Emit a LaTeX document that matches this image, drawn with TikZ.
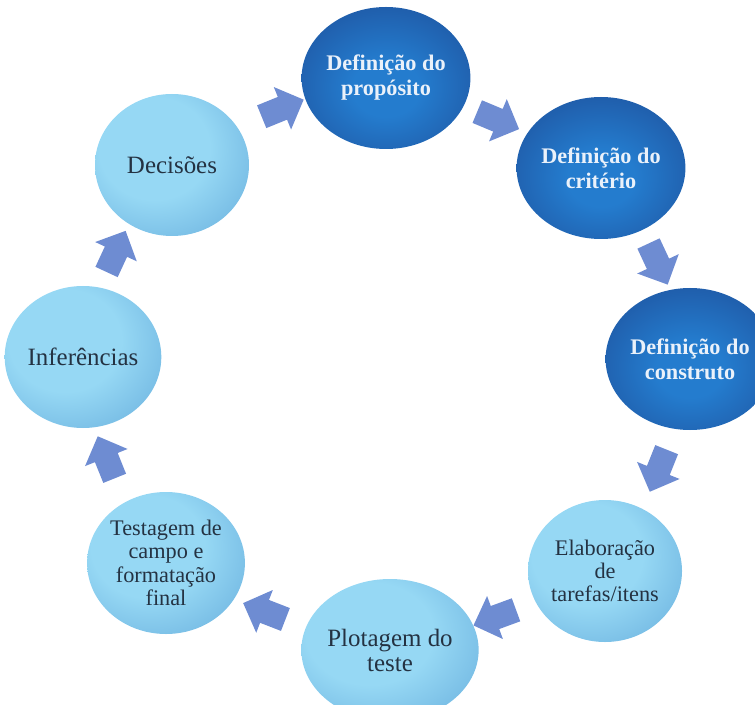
\documentclass[tikz,border=0pt]{standalone}
\usepackage{fontspec}
\setmainfont{Liberation Serif}
\usetikzlibrary{shapes.geometric,shapes.arrows,calc}
\definecolor{lightA}{RGB}{150,216,244}
\definecolor{lightB}{RGB}{86,158,212}
\definecolor{darkA}{RGB}{36,124,206}
\definecolor{darkB}{RGB}{27,58,130}
\definecolor{arrowc}{RGB}{110,140,210}
\definecolor{txtdark}{RGB}{36,50,66}
\definecolor{txtlight}{RGB}{234,241,250}
\pgfdeclareradialshading{lightball}{\pgfpoint{-7bp}{7bp}}{color(0bp)=(lightA); color(18bp)=(lightA); color(50bp)=(lightB); color(100bp)=(lightB)}
\pgfdeclareradialshading{darkball}{\pgfpoint{0bp}{-4bp}}{color(0bp)=(darkA); color(10bp)=(darkA); color(50bp)=(darkB); color(100bp)=(darkB)}
\tikzset{
  ball/.style={ellipse, minimum width=115.5pt, minimum height=106.5pt, inner sep=0pt, align=center},
  lightnode/.style={ball, shading=lightball, text=txtdark, font=\fontsize{18.7}{23}\selectfont},
  lightsmall/.style={ball, shading=lightball, text=txtdark, font=\fontsize{16.7}{17.5}\selectfont},
  darknode/.style={ball, shading=darkball, text=txtlight, font=\bfseries\fontsize{16.7}{18.75}\selectfont},
  arr/.style={single arrow, fill=arrowc, draw=none, minimum height=34pt, single arrow head extend=8pt, inner xsep=0pt, inner ysep=9pt, sloped, allow upside down, midway}
}
\begin{document}
\begin{tikzpicture}[x=0.75pt,y=-0.75pt]
\useasboundingbox (0,0) rectangle (755,705);
\clip (0,0) rectangle (755,705);
\node[darknode] (P) at (386,78) {Definição do\\propósito};
\node[darknode] (C) at (601,168) {Definição do\\critério};
\node[darknode] (K) at (690,359) {Definição do\\construto};
\node[lightsmall] (E) at (605,571) {Elaboração\\de\\tarefas/itens};
\node[lightnode, font=\fontsize{18.7}{18.75}\selectfont] (L) at (390,650) {Plotagem do\\teste};
\node[lightsmall] (T) at (166,563) {Testagem de\\campo e\\formatação\\final};
\node[lightnode] (I) at (83,357) {Inferências};
\node[lightnode] (D) at (172,165) {Decisões};
\path ([shift={(-2,-11)}]D.center) -- ([shift={(-2,-11)}]P.center) node[arr] {};
\path ([shift={(-1,-5)}]P.center) -- ([shift={(-1,-5)}]C.center) node[arr] {};
\path ([shift={(10,-5)}]C.center) -- ([shift={(10,-5)}]K.center) node[arr] {};
\path ([shift={(13,0)}]K.center) -- ([shift={(13,0)}]E.center) node[arr] {};
\path ([shift={(3,5)}]E.center) -- ([shift={(3,5)}]L.center) node[arr] {};
\path ([shift={(-8,7)}]L.center) -- ([shift={(-8,7)}]T.center) node[arr] {};
\path ([shift={(-16,3)}]T.center) -- ([shift={(-16,3)}]I.center) node[arr] {};
\path ([shift={(-14,-4)}]I.center) -- ([shift={(-14,-4)}]D.center) node[arr] {};
\end{tikzpicture}
\end{document}
